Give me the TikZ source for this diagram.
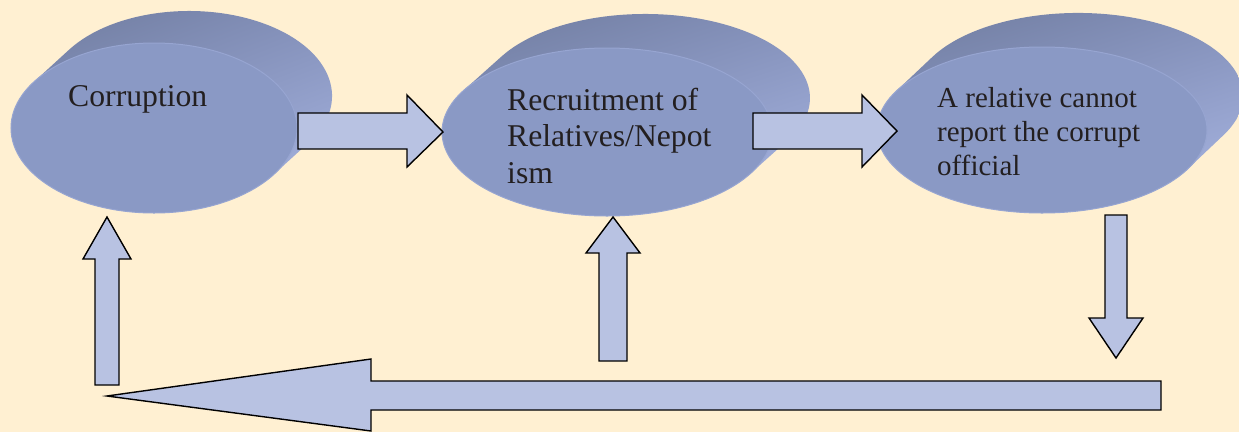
\documentclass[tikz,border=0pt]{standalone}
\usepackage{fontspec}
\setmainfont{Liberation Serif}
\usetikzlibrary{shadings}
\definecolor{bg}{HTML}{FFF0D2}
\definecolor{front}{HTML}{8A99C5}
\definecolor{rim}{HTML}{97A5D1}
\definecolor{backUL}{HTML}{6E7A9C}
\definecolor{backUR}{HTML}{8390BA}
\definecolor{backLL}{HTML}{8C9AC7}
\definecolor{backLR}{HTML}{A4B1DD}
\definecolor{arr}{HTML}{B8C2E2}
\definecolor{txt}{HTML}{231F20}
\tikzset{
  backside/.style={upper left=backUL, upper right=backUR, lower left=backLL, lower right=backLR},
  frontside/.style={fill=front, draw=rim, line width=1pt},
  lbl/.style={inner sep=0pt, text=txt, anchor=base west, align=left, font=\fontsize{31.7}{36.5}\selectfont},
  blockarrow/.style={fill=arr, draw=black, line width=1.4pt, line join=miter},
}
\begin{document}
\begin{tikzpicture}[x=1pt,y=-1pt]
\useasboundingbox (0,0) rectangle (1239,432);
\clip (0,0) rectangle (1239,432);
\fill[bg] (0,0) rectangle (1239,432);

% Disk 1
\shade[backside] (69.1,49.7) arc[start angle=147, end angle=-33, x radius=143pt, y radius=85pt] -- (273.9,174.3) -- (34.1,81.7) -- cycle;
\path[frontside] (154,128) ellipse[x radius=143pt, y radius=85pt];
\node[lbl] (t1) at (68,106) {Corruption};

% Disk 2
\shade[backside] (501.5,56.5) arc[start angle=150.4, end angle=-29.6, x radius=165pt, y radius=84pt] -- (750.5,173.5) -- (463.5,90.5) -- cycle;
\path[frontside] (607,132) ellipse[x radius=165pt, y radius=84pt];
\node[lbl] (t2) at (507,183) {Recruitment of\\Relatives/Nepot\\ism};

% Disk 3
\shade[backside] (932.3,57) arc[start angle=152, end angle=-28, x radius=165pt, y radius=83pt] -- (1187.7,169) -- (896.3,91) -- cycle;
\path[frontside] (1042,130) ellipse[x radius=165pt, y radius=83pt];
\node[lbl, font=\fontsize{29}{34}\selectfont] (t3) at (937,175) {A relative cannot\\report the corrupt\\official};

% Block arrows
\draw[blockarrow] (298,113) -- (407,113) -- (407,95) -- (443,132) -- (407,167) -- (407,149) -- (298,149) -- cycle;
\draw[blockarrow] (753,113) -- (862,113) -- (862,95) -- (897,131) -- (862,167) -- (862,149) -- (753,149) -- cycle;
\draw[blockarrow] (95,385) -- (95,259) -- (83,259) -- (107,217) -- (131,259) -- (119,259) -- (119,385) -- cycle;
\draw[blockarrow] (599,361) -- (599,253) -- (586,253) -- (613,217) -- (640,253) -- (627,253) -- (627,361) -- cycle;
\draw[blockarrow] (1105,215) -- (1127,215) -- (1127,318) -- (1143,318) -- (1116,358) -- (1089,318) -- (1105,318) -- cycle;
\draw[blockarrow] (1161,381) -- (371,381) -- (371,359) -- (107,396) -- (371,431) -- (371,410) -- (1161,410) -- cycle;
\end{tikzpicture}
\end{document}
